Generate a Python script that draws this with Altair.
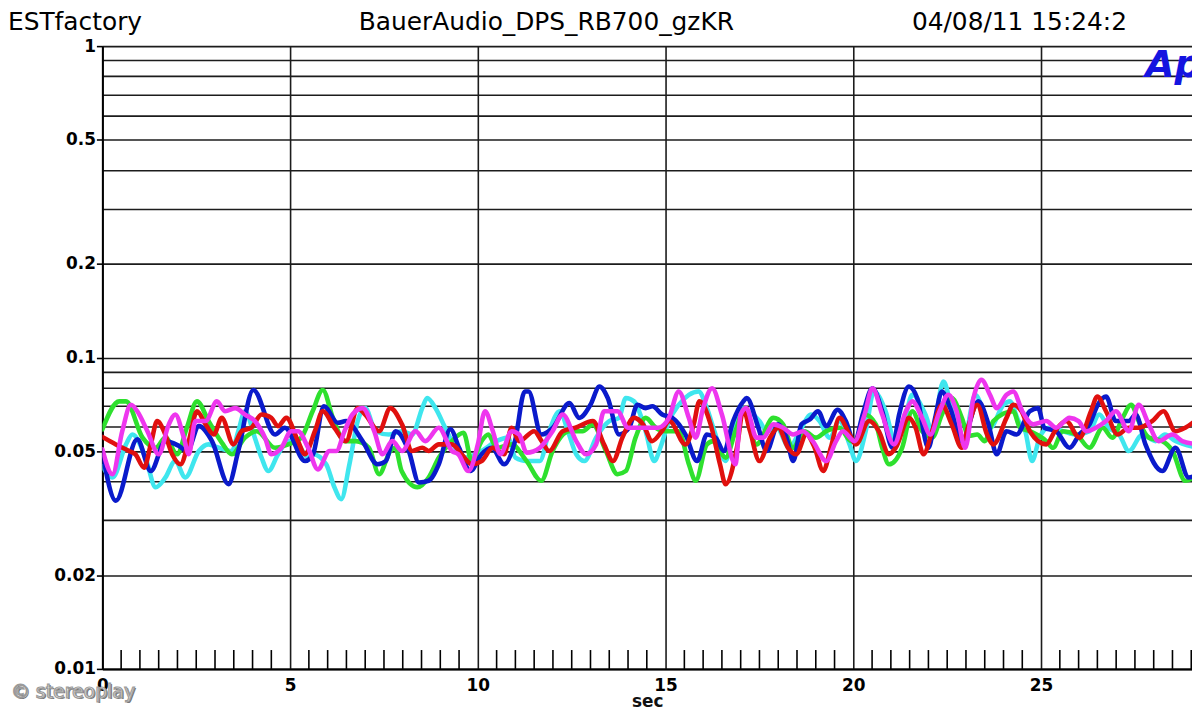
import altair as alt
import pandas as pd

# ---------------- data ----------------
t_blue = [0, 0.36, 0.93, 1.29, 1.68, 2.04, 2.26, 2.57, 2.92, 3.36, 3.62, 4.02, 4.6, 4.86, 5.4, 5.61, 5.9, 6.27, 6.49, 6.93,
          7.33, 7.55, 7.81, 8.16, 8.43, 8.69, 8.96, 9.27, 9.5, 9.8, 10.1, 10.37, 10.7, 10.99, 11.25, 11.35, 11.69, 12.0, 12.44, 12.7,
          13.0, 13.24, 13.46, 13.76, 14.03, 14.25, 14.47, 14.65, 14.91, 15.18, 15.53, 15.84, 16.1, 16.33, 16.55, 16.8, 17.07, 17.16, 17.47, 17.69,
          18.0, 18.22, 18.4, 18.62, 18.84, 19.06, 19.28, 19.58, 19.8, 20.03, 20.25, 20.51, 20.77, 21.04, 21.22, 21.48, 21.7, 22.0, 22.18, 22.36,
          22.58, 22.89, 23.33, 23.6, 23.82, 24.08, 24.35, 24.7, 24.92, 25.09, 25.4, 25.76, 26.02, 26.29, 26.51, 26.73, 26.99, 27.34, 27.52, 27.78,
          28.23, 28.58, 28.93, 29.2]
v_blue = [0.0495, 0.0347, 0.0546, 0.0432, 0.0539, 0.0520, 0.0501, 0.0602, 0.0539, 0.0392, 0.0501, 0.0787, 0.0566, 0.0595, 0.0465, 0.0489, 0.0697, 0.0617, 0.0625, 0.0539,
          0.0454, 0.0465, 0.0580, 0.0501, 0.0397, 0.0402, 0.0454, 0.0588, 0.0513, 0.0432, 0.0489, 0.0513, 0.0454, 0.0539, 0.0778, 0.0778, 0.0566, 0.0595, 0.0714, 0.0640,
          0.0705, 0.0807, 0.0741, 0.0566, 0.0595, 0.0705, 0.0688, 0.0697, 0.0656, 0.0640, 0.0566, 0.0465, 0.0566, 0.0553, 0.0501, 0.0625, 0.0723, 0.0741, 0.0595, 0.0501,
          0.0610, 0.0553, 0.0465, 0.0610, 0.0632, 0.0672, 0.0602, 0.0680, 0.0625, 0.0533, 0.0656, 0.0797, 0.0672, 0.0513, 0.0656, 0.0807, 0.0741, 0.0513, 0.0640, 0.0778,
          0.0688, 0.0539, 0.0723, 0.0610, 0.0489, 0.0580, 0.0566, 0.0672, 0.0688, 0.0595, 0.0580, 0.0513, 0.0566, 0.0610, 0.0705, 0.0750, 0.0625, 0.0625, 0.0656, 0.0526,
          0.0432, 0.0513, 0.0412, 0.0422]

t_green = [0, 0.45, 0.63, 1.07, 1.42, 1.68, 1.99, 2.25, 2.52, 2.83, 3.18, 3.45, 3.8, 4.11, 4.6, 4.95, 5.3, 5.6, 5.87, 6.14,
           6.45, 6.75, 7.1, 7.37, 7.67, 7.8, 7.97, 8.39, 8.69, 8.96, 9.31, 9.62, 9.84, 10.1, 10.28, 10.5, 10.9, 11.3, 11.69, 11.99,
           12.44, 12.79, 13.06, 13.41, 13.72, 13.94, 14.2, 14.47, 14.74, 15.0, 15.35, 15.62, 15.8, 16.1, 16.27, 16.6, 16.86, 17.1, 17.42, 17.87,
           18.13, 18.39, 18.7, 19.0, 19.28, 19.63, 19.94, 20.15, 20.3, 20.6, 20.77, 20.95, 21.3, 21.57, 21.83, 22.1, 22.36, 22.62, 22.89, 23.07,
           23.3, 23.5, 23.73, 24.26, 24.44, 24.7, 25.14, 25.32, 25.58, 25.94, 26.29, 26.64, 26.9, 27.17, 27.4, 27.6, 27.87, 28.23, 28.5, 28.84, 29.2]
v_green = [0.0588, 0.0723, 0.0723, 0.0553, 0.0513, 0.0553, 0.0489, 0.0595, 0.0723, 0.0625, 0.0533, 0.0489, 0.0553, 0.0580, 0.0513, 0.0526, 0.0553, 0.0672, 0.0787, 0.0640,
           0.0539, 0.0539, 0.0513, 0.0422, 0.0501, 0.0513, 0.0432, 0.0383, 0.0412, 0.0477, 0.0539, 0.0573, 0.0465, 0.0539, 0.0566, 0.0513, 0.0526, 0.0465, 0.0402, 0.0501,
           0.0580, 0.0580, 0.0610, 0.0501, 0.0422, 0.0432, 0.0553, 0.0640, 0.0595, 0.0580, 0.0580, 0.0454, 0.0402, 0.0526, 0.0539, 0.0477, 0.0580, 0.0680, 0.0526, 0.0640,
           0.0610, 0.0513, 0.0580, 0.0553, 0.0580, 0.0595, 0.0539, 0.0539, 0.0656, 0.0610, 0.0513, 0.0454, 0.0513, 0.0672, 0.0580, 0.0553, 0.0656, 0.0741, 0.0640, 0.0560,
           0.0566, 0.0539, 0.0625, 0.0672, 0.0595, 0.0580, 0.0539, 0.0513, 0.0580, 0.0566, 0.0513, 0.0595, 0.0553, 0.0640, 0.0705, 0.0625, 0.0553, 0.0539, 0.0501, 0.0402, 0.0422]

t_cyan = [0, 0.27, 0.63, 0.8, 1.15, 1.42, 1.68, 1.94, 2.21, 2.57, 2.83, 3.1, 3.45, 3.62, 3.8, 4.06, 4.24, 4.42, 4.68, 4.95,
          5.21, 5.48, 5.61, 5.96, 6.18, 6.36, 6.58, 6.8, 7.0, 7.28, 7.63, 7.98, 8.25, 8.52, 8.65, 8.87, 9.13, 9.4, 9.66, 10.1,
          10.5, 10.8, 11.0, 11.3, 11.65, 11.9, 12.18, 12.4, 12.62, 12.84, 13.15, 13.5, 13.76, 13.94, 14.16, 14.47, 14.7, 14.86, 15.09, 15.35,
          15.62, 15.88, 16.1, 16.3, 16.6, 16.8, 17.0, 17.5, 17.7, 17.96, 18.3, 18.57, 18.88, 19.1, 19.37, 19.63, 19.9, 20.07, 20.33, 20.55,
          20.86, 21.13, 21.4, 21.57, 21.92, 22.1, 22.4, 22.62, 22.94, 23.25, 23.64, 24.0, 24.17, 24.4, 24.58, 24.76, 24.96, 25.2, 25.58, 25.94,
          26.29, 26.55, 26.8, 27.08, 27.34, 27.7, 28.05, 28.3, 28.58, 29.2]
v_cyan = [0.0448, 0.0412, 0.0526, 0.0566, 0.0477, 0.0383, 0.0412, 0.0465, 0.0412, 0.0501, 0.0526, 0.0513, 0.0501, 0.0580, 0.0672, 0.0553, 0.0477, 0.0432, 0.0489, 0.0539,
          0.0526, 0.0477, 0.0489, 0.0454, 0.0383, 0.0351, 0.0454, 0.0625, 0.0688, 0.0580, 0.0566, 0.0580, 0.0566, 0.0688, 0.0741, 0.0688, 0.0595, 0.0513, 0.0477, 0.0501,
          0.0539, 0.0553, 0.0477, 0.0465, 0.0465, 0.0580, 0.0672, 0.0580, 0.0489, 0.0465, 0.0553, 0.0625, 0.0640, 0.0741, 0.0723, 0.0580, 0.0465, 0.0513, 0.0625, 0.0705,
          0.0759, 0.0778, 0.0688, 0.0580, 0.0465, 0.0580, 0.0688, 0.0625, 0.0580, 0.0595, 0.0513, 0.0580, 0.0656, 0.0625, 0.0553, 0.0625, 0.0526, 0.0465, 0.0580, 0.0778,
          0.0672, 0.0526, 0.0656, 0.0759, 0.0656, 0.0580, 0.0837, 0.0688, 0.0539, 0.0759, 0.0595, 0.0705, 0.0723, 0.0625, 0.0580, 0.0465, 0.0553, 0.0595, 0.0580, 0.0566,
          0.0580, 0.0656, 0.0595, 0.0566, 0.0501, 0.0566, 0.0539, 0.0566, 0.0539, 0.0513]

t_red = [0, 0.36, 0.71, 0.88, 1.11, 1.29, 1.46, 1.64, 1.86, 2.08, 2.3, 2.52, 2.75, 2.97, 3.18, 3.49, 3.71, 3.97, 4.24, 4.5,
         4.68, 4.9, 5.21, 5.39, 5.66, 5.87, 6.18, 6.49, 6.8, 7.0, 7.37, 7.67, 7.98, 8.25, 8.52, 8.69, 8.96, 9.31, 9.57, 9.84,
         10.1, 10.4, 10.7, 10.9, 11.1, 11.5, 11.7, 11.9, 12.26, 12.6, 13.06, 13.36, 13.6, 13.85, 14.16, 14.4, 14.64, 14.9, 15.1, 15.53,
         15.75, 15.9, 16.2, 16.45, 16.6, 16.9, 17.07, 17.25, 17.5, 17.78, 18.0, 18.26, 18.48, 18.75, 18.97, 19.2, 19.4, 19.63, 19.9, 20.07,
         20.42, 20.68, 20.95, 21.13, 21.48, 21.66, 21.87, 22.1, 22.36, 22.62, 22.89, 23.05, 23.3, 23.56, 23.73, 24.08, 24.26, 24.48, 24.7, 25.14,
         25.37, 25.67, 26.02, 26.33, 26.5, 26.73, 27.04, 27.34, 27.6, 27.96, 28.26, 28.58, 28.84, 29.2]
v_red = [0.0556, 0.0526, 0.0501, 0.0489, 0.0443, 0.0526, 0.0625, 0.0580, 0.0489, 0.0454, 0.0539, 0.0672, 0.0610, 0.0566, 0.0640, 0.0526, 0.0580, 0.0595, 0.0656, 0.0640,
         0.0602, 0.0640, 0.0539, 0.0489, 0.0580, 0.0672, 0.0595, 0.0539, 0.0688, 0.0656, 0.0580, 0.0688, 0.0610, 0.0501, 0.0513, 0.0501, 0.0526, 0.0526, 0.0489, 0.0454,
         0.0465, 0.0513, 0.0489, 0.0595, 0.0539, 0.0580, 0.0539, 0.0501, 0.0580, 0.0595, 0.0625, 0.0526, 0.0465, 0.0553, 0.0640, 0.0610, 0.0539, 0.0580, 0.0625, 0.0526,
         0.0610, 0.0723, 0.0610, 0.0454, 0.0392, 0.0513, 0.0680, 0.0580, 0.0465, 0.0553, 0.0595, 0.0513, 0.0489, 0.0566, 0.0513, 0.0432, 0.0513, 0.0640, 0.0566, 0.0526,
         0.0625, 0.0580, 0.0489, 0.0513, 0.0640, 0.0595, 0.0489, 0.0580, 0.0705, 0.0610, 0.0513, 0.0595, 0.0705, 0.0566, 0.0526, 0.0640, 0.0705, 0.0672, 0.0580, 0.0526,
         0.0580, 0.0625, 0.0553, 0.0672, 0.0750, 0.0672, 0.0566, 0.0595, 0.0595, 0.0625, 0.0672, 0.0580, 0.0595, 0.0640]

t_magenta = [0, 0.27, 0.53, 0.76, 0.93, 1.2, 1.5, 1.77, 1.94, 2.17, 2.3, 2.48, 2.75, 3.05, 3.27, 3.54, 3.8, 4.06, 4.33, 4.5,
             4.77, 5.03, 5.21, 5.48, 5.74, 6.05, 6.23, 6.45, 6.66, 6.93, 7.24, 7.46, 7.72, 7.98, 8.34, 8.6, 8.96, 9.31, 9.48, 9.75,
             10.0, 10.19, 10.4, 10.6, 10.9, 11.1, 11.3, 11.65, 11.99, 12.26, 12.62, 12.88, 13.15, 13.36, 13.72, 14.0, 14.38, 14.8, 15.09, 15.35,
             15.62, 15.8, 16.0, 16.24, 16.5, 16.86, 17.0, 17.15, 17.42, 17.6, 17.87, 18.13, 18.4, 18.66, 18.92, 19.28, 19.54, 19.72, 20.03, 20.3,
             20.51, 20.77, 21.08, 21.4, 21.57, 21.83, 22.05, 22.3, 22.53, 22.75, 22.98, 23.2, 23.41, 23.64, 23.82, 24.08, 24.26, 24.5, 24.79, 25.14,
             25.4, 25.76, 26.0, 26.2, 26.46, 26.73, 26.99, 27.34, 27.6, 27.87, 28.13, 28.5, 28.76, 29.2]
v_magenta = [0.0507, 0.0422, 0.0580, 0.0705, 0.0672, 0.0580, 0.0489, 0.0610, 0.0656, 0.0553, 0.0489, 0.0625, 0.0625, 0.0723, 0.0672, 0.0688, 0.0656, 0.0625, 0.0553, 0.0489,
             0.0513, 0.0580, 0.0580, 0.0513, 0.0437, 0.0501, 0.0501, 0.0580, 0.0656, 0.0688, 0.0580, 0.0489, 0.0539, 0.0501, 0.0580, 0.0539, 0.0595, 0.0501, 0.0489, 0.0432,
             0.0526, 0.0672, 0.0580, 0.0489, 0.0580, 0.0566, 0.0495, 0.0513, 0.0580, 0.0656, 0.0539, 0.0489, 0.0526, 0.0672, 0.0672, 0.0595, 0.0595, 0.0595, 0.0640, 0.0778,
             0.0640, 0.0553, 0.0688, 0.0797, 0.0656, 0.0454, 0.0656, 0.0688, 0.0553, 0.0553, 0.0610, 0.0595, 0.0566, 0.0580, 0.0539, 0.0465, 0.0539, 0.0580, 0.0539, 0.0656,
             0.0797, 0.0656, 0.0526, 0.0672, 0.0723, 0.0640, 0.0566, 0.0672, 0.0759, 0.0672, 0.0513, 0.0741, 0.0848, 0.0759, 0.0688, 0.0759, 0.0778, 0.0672, 0.0610, 0.0625,
             0.0595, 0.0640, 0.0625, 0.0580, 0.0595, 0.0625, 0.0672, 0.0580, 0.0705, 0.0610, 0.0539, 0.0566, 0.0539, 0.0526]

series_names = ["cyan", "green", "blue", "red", "magenta"]
series_colors = ["#3FE6EE", "#2EE02E", "#0A1ACB", "#E0100E", "#EE36EE"]
series_t = [t_cyan, t_green, t_blue, t_red, t_magenta]
series_v = [v_cyan, v_green, v_blue, v_red, v_magenta]

y_grid_values = [1, 0.9, 0.8, 0.7, 0.6, 0.5, 0.4, 0.3, 0.2, 0.1,
                 0.09, 0.08, 0.07, 0.06, 0.05, 0.04, 0.03, 0.02, 0.01]
y_label_values = [1, 0.5, 0.2, 0.1, 0.05, 0.02, 0.01]
x_label_values = [0, 5, 10, 15, 20, 25]
x_minor_ticks = [i / 2 for i in range(1, 59) if i % 10 != 0]

header_texts = ["ESTfactory", "BauerAudio_DPS_RB700_gzKR", "04/08/11 15:24:2"]

# ---------------- layout ----------------
W, H = 1097, 627
X_MAX = 29.02
FONT = "DejaVu Sans"

x_scale = alt.Scale(domain=[0, X_MAX], nice=False, zero=False)
y_scale = alt.Scale(type="log", domain=[0.01, 1], nice=False)

label_test = "indexof([" + ",".join(str(v) for v in y_label_values) + "], datum.value) >= 0"

x_axis = alt.Axis(values=x_label_values, grid=True, ticks=False, labelPadding=9,
                  labelFontSize=17, labelFontWeight="bold", labelFont=FONT, labelColor="black",
                  labelFlush=False, labelOverlap=False,
                  title="sec", titleFontSize=17, titleFontWeight="bold", titleFont=FONT,
                  titleColor="#111111", titlePadding=0,
                  gridColor="#1c1c1c", gridWidth=1.6, gridOpacity=1,
                  domainColor="black", domainWidth=2)

y_axis = alt.Axis(values=y_grid_values, grid=True, tickSize=6, tickColor="black", tickWidth=1.6,
                  tickOpacity={"condition": {"test": label_test, "value": 1}, "value": 0},
                  labelExpr=label_test + " ? format(datum.value, '~g') : ''",
                  labelPadding=1, labelFontSize=17, labelFontWeight="bold", labelFont=FONT,
                  labelColor="black", labelFlush=False, labelOverlap=False, labelBaseline="middle",
                  title=None,
                  gridColor="#1c1c1c", gridWidth=1.6, gridOpacity=1,
                  domainColor="black", domainWidth=2)

frames = []
for name, tt, vv in zip(series_names, series_t, series_v):
    frames.append(pd.DataFrame({"t": tt, "v": vv, "series": name}))

base_df = pd.DataFrame({"t": [0.0], "v": [0.01]})
axes_layer = alt.Chart(base_df).mark_point(opacity=0).encode(
    x=alt.X("t:Q", scale=x_scale, axis=x_axis),
    y=alt.Y("v:Q", scale=y_scale, axis=y_axis),
)

minor_layer = alt.Chart(pd.DataFrame({"t": x_minor_ticks})).mark_rule(
    color="black", strokeWidth=1.6, clip=True
).encode(
    x=alt.X("t:Q", scale=x_scale),
    y=alt.value(H),
    y2=alt.value(H - 19),
)

line_layers = []
for name, color, df in zip(series_names, series_colors, frames):
    line_layers.append(
        alt.Chart(df).mark_line(color=color, strokeWidth=4.6, interpolate="monotone",
                                clip=True, strokeJoin="round", strokeCap="round").encode(
            x=alt.X("t:Q", scale=x_scale),
            y=alt.Y("v:Q", scale=y_scale),
        )
    )

def text_layer(txt, x, y, **kw):
    return alt.Chart(pd.DataFrame({"label": [txt]})).mark_text(**kw).encode(
        text="label:N", x=alt.value(x), y=alt.value(y)
    )

head_kw = dict(font=FONT, fontSize=25, color="black", baseline="alphabetic")
texts = [
    text_layer(header_texts[0], -95, -16, align="left", **head_kw),
    text_layer(header_texts[1], 447, -16, align="center", **head_kw),
    text_layer(header_texts[2], 815, -16, align="left", **head_kw),
    text_layer("Ap", 1050, 31, align="left", baseline="alphabetic", font=FONT,
               fontSize=38, fontWeight="bold", fontStyle="italic", color="#1414E0"),
    text_layer("© stereoplay", -92, 650, align="left", baseline="middle", font=FONT,
               fontSize=19, color="#555555", dx=1.5, dy=1.5, opacity=0.8),
    text_layer("© stereoplay", -92, 650, align="left", baseline="middle", font=FONT,
               fontSize=19, color="white", stroke="#9a9a9a", strokeWidth=1.2),
]

chart = alt.layer(axes_layer, minor_layer, *line_layers, *texts).properties(
    width=W, height=H,
    autosize=alt.AutoSizeParams(type="none"),
    padding={"left": 95, "top": 36, "right": 0, "bottom": 41},
    background="white",
).configure_view(strokeWidth=0)

chart.save("out.html", embed_options={"renderer": "svg", "actions": False})
